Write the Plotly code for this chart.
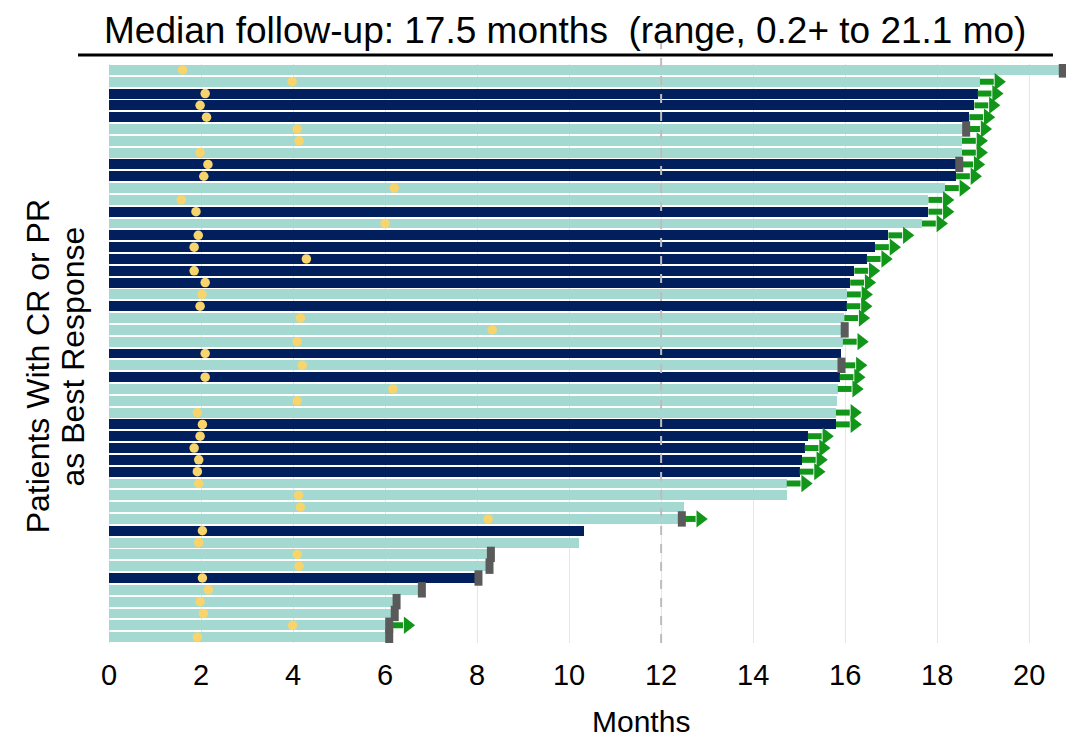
import plotly.graph_objects as go

# ---- data ----
patients = list(range(1, 50))  # 49 responders, top to bottom

durations = [20.73, 18.93, 18.88, 18.81, 18.70, 18.63, 18.54, 18.54, 18.48, 18.41,
             18.17, 17.81, 17.81, 17.67, 16.94, 16.65, 16.47, 16.20, 16.11, 16.04,
             16.03, 15.98, 15.99, 15.95, 15.91, 15.92, 15.88, 15.84, 15.82, 15.80,
             15.80, 15.19, 15.12, 15.06, 15.01, 14.73, 14.74, 12.49, 12.45, 10.32,
             10.22, 8.30, 8.27, 8.03, 6.80, 6.25, 6.21, 6.09, 6.09]

response_type = ["PR", "PR", "CR", "CR", "CR", "PR", "PR", "PR", "CR", "CR",
                 "PR", "PR", "CR", "PR", "CR", "CR", "CR", "CR", "CR", "PR",
                 "CR", "PR", "PR", "PR", "CR", "PR", "CR", "PR", "PR", "PR",
                 "CR", "CR", "CR", "CR", "CR", "PR", "PR", "PR", "PR", "CR",
                 "PR", "PR", "PR", "CR", "PR", "PR", "PR", "PR", "PR"]

time_to_response = [1.60, 3.98, 2.09, 1.98, 2.12, 4.09, 4.13, 1.98, 2.15, 2.06,
                    6.20, 1.57, 1.89, 6.00, 1.94, 1.85, 4.29, 1.85, 2.09, 2.02,
                    1.98, 4.16, 8.33, 4.09, 2.09, 4.20, 2.09, 6.17, 4.09, 1.92,
                    2.03, 1.98, 1.85, 1.95, 1.92, 1.95, 4.12, 4.16, 8.24, 2.03,
                    1.95, 4.09, 4.13, 2.03, 2.16, 1.98, 2.05, 3.99, 1.92]

# 1 = progression / death marker at end of bar
progressed = [1, 0, 0, 0, 0, 1, 0, 0, 1, 0,
              0, 0, 0, 0, 0, 0, 0, 0, 0, 0,
              0, 0, 1, 0, 0, 1, 0, 0, 0, 0,
              0, 0, 0, 0, 0, 0, 0, 0, 1, 0,
              0, 1, 1, 1, 1, 1, 1, 1, 1]

# 1 = response ongoing (arrow)
ongoing = [0, 1, 1, 1, 1, 1, 1, 1, 1, 1,
           1, 1, 1, 1, 1, 1, 1, 1, 1, 1,
           1, 1, 0, 1, 0, 1, 1, 1, 0, 1,
           1, 1, 1, 1, 1, 1, 0, 0, 1, 0,
           0, 0, 0, 0, 0, 0, 0, 1, 0]

x_ticks = [0, 2, 4, 6, 8, 10, 12, 14, 16, 18, 20]
reference_month = 12
title_text = "Median follow-up: 17.5 months\u00a0\u00a0(range, 0.2+ to 21.1 mo)"
y_title_lines = ["Patients With CR or PR", "as Best Response"]
x_title = "Months"

# ---- styles ----
DARK = "#001f5c"
LIGHT = "#a4d9d1"
YELLOW = "#f8d46c"
GRAY = "#5a5a5a"
GREEN = "#12961a"
FONT = "Liberation Sans, Arial, sans-serif"
SHAFT = 0.30
HEAD_OFF = 0.40

ypos = list(range(len(patients)))
colors = [DARK if r == "CR" else LIGHT for r in response_type]

fig = go.Figure()

fig.add_trace(go.Bar(
    x=durations, y=ypos, orientation="h", base=0,
    marker=dict(color=colors, line=dict(width=0)),
    width=0.84, hoverinfo="x", showlegend=False,
))

fig.add_trace(go.Scatter(
    x=time_to_response, y=ypos, mode="markers",
    marker=dict(color=YELLOW, size=9.5, line=dict(width=0)),
    showlegend=False,
))

# arrows for ongoing responses
sx, sy, hx, hy = [], [], [], []
for i, (d, o) in enumerate(zip(durations, ongoing)):
    if o:
        sx += [d, d + SHAFT, None]
        sy += [i, i, None]
        hx.append(d + HEAD_OFF)
        hy.append(i)
fig.add_trace(go.Scatter(x=sx, y=sy, mode="lines",
                         line=dict(color=GREEN, width=6), showlegend=False))
fig.add_trace(go.Scatter(x=hx, y=hy, mode="markers",
                         marker=dict(symbol="triangle-right", color=GREEN, size=15,
                                     line=dict(width=0)),
                         showlegend=False))

# progression markers
px_ = [d for d, p in zip(durations, progressed) if p]
py_ = [i for i, p in zip(ypos, progressed) if p]
fig.add_trace(go.Scatter(x=px_, y=py_, mode="markers",
                         marker=dict(symbol="line-ns", size=11,
                                     line=dict(width=8, color=GRAY)),
                         showlegend=False))

# dashed reference line at 12 months (extends up to title)
fig.add_shape(type="line", xref="x", yref="paper",
              x0=reference_month, x1=reference_month, y0=0, y1=1.055,
              line=dict(color="#bdbdbd", width=2, dash="dash"), layer="above")

# title + rule under it
fig.add_annotation(text=title_text, xref="paper", yref="paper",
                   x=0.477, y=1.0587, xanchor="center", yanchor="middle",
                   showarrow=False, font=dict(family=FONT, size=37, color="black"))
fig.add_shape(type="line", xref="paper", yref="paper",
              x0=-0.0313, x1=0.9864, y0=1.0155, y1=1.0155,
              line=dict(color="black", width=3))

# axis titles
fig.add_annotation(text=y_title_lines[0], xref="paper", yref="paper",
                   x=-0.073, y=0.478, xanchor="center", yanchor="middle",
                   textangle=-90, showarrow=False,
                   font=dict(family=FONT, size=32, color="black"))
fig.add_annotation(text=y_title_lines[1], xref="paper", yref="paper",
                   x=-0.0365, y=0.495, xanchor="center", yanchor="middle",
                   textangle=-90, showarrow=False,
                   font=dict(family=FONT, size=32, color="black"))
fig.add_annotation(text=x_title, xref="paper", yref="paper",
                   x=0.556, y=-0.136, xanchor="center", yanchor="middle",
                   showarrow=False, font=dict(family=FONT, size=30, color="black"))

fig.update_layout(
    width=1066, height=738,
    margin=dict(l=108, r=0, t=64, b=95),
    paper_bgcolor="white", plot_bgcolor="white",
    bargap=0, showlegend=False,
    xaxis=dict(range=[-0.022, 20.80], tickvals=x_ticks,
               ticktext=[str(v) for v in x_ticks],
               showgrid=True, gridcolor="#e6e6e6", gridwidth=1,
               zeroline=False, showline=False,
               ticks="outside", ticklen=6, tickcolor="rgba(0,0,0,0)",
               tickfont=dict(family=FONT, size=29, color="black")),
    yaxis=dict(range=[len(patients) - 0.5, -0.5], showticklabels=False,
               showgrid=False, zeroline=False, showline=False, ticks=""),
)

fig.write_html("out.html",
               config={"displayModeBar": False},
               post_script="document.body.style.margin='0';document.body.style.overflow='hidden';")
